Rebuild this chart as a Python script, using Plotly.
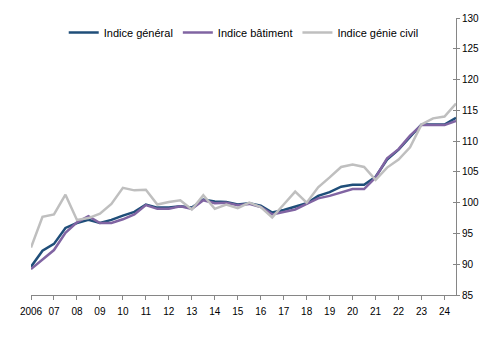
import plotly.graph_objects as go

# Half-yearly observations, 2006 H1 ... 2024 H2
periods = [2006 + 0.5 * i for i in range(38)]

indice_general = [89.6, 92.2, 93.3, 95.9, 96.7, 97.2, 96.7, 97.2, 97.9, 98.5,
                  99.7, 99.2, 99.2, 99.4, 99.2, 100.5, 100.2, 100.1, 99.7, 99.9,
                  99.5, 98.4, 98.8, 99.3, 99.9, 101.1, 101.7, 102.6, 102.9, 102.9,
                  104.2, 107.0, 108.6, 110.7, 112.7, 112.7, 112.7, 113.8]
indice_batiment = [89.2, 90.8, 92.3, 95.1, 96.8, 97.8, 96.7, 96.7, 97.3, 98.1,
                   99.6, 99.0, 99.0, 99.4, 99.0, 100.4, 99.9, 100.0, 99.6, 99.8,
                   99.3, 98.1, 98.5, 98.9, 99.8, 100.7, 101.1, 101.7, 102.2, 102.2,
                   104.1, 107.2, 108.7, 110.9, 112.6, 112.6, 112.6, 113.3]
indice_genie_civil = [92.7, 97.7, 98.1, 101.3, 97.2, 97.5, 98.2, 99.8, 102.4, 102.0,
                      102.1, 99.7, 100.1, 100.4, 98.9, 101.2, 99.0, 99.7, 99.1, 100.0,
                      99.3, 97.6, 99.7, 101.8, 100.0, 102.5, 104.1, 105.8, 106.2, 105.8,
                      103.7, 105.7, 107.0, 109.0, 112.7, 113.7, 114.0, 116.1]

tick_years = list(range(2006, 2025))
tick_labels = ["2006"] + [f"{y % 100:02d}" for y in range(2007, 2025)]
y_ticks = list(range(85, 131, 5))

series = [
    ("Indice général", indice_general, "#1F4E79"),
    ("Indice bâtiment", indice_batiment, "#8064A2"),
    ("Indice génie civil", indice_genie_civil, "#BFBFBF"),
]

fig = go.Figure()
for name, vals, col in series:
    fig.add_trace(go.Scatter(x=periods, y=vals, name=name, mode="lines",
                             line=dict(color=col, width=2.5), yaxis="y"))
# invisible trace for the inner-tick overlay axis
fig.add_trace(go.Scatter(x=[periods[0]], y=[100], yaxis="y2", mode="lines",
                         showlegend=False, hoverinfo="skip",
                         line=dict(color="rgba(0,0,0,0)")))

axis_col = "#868686"
font = dict(family="Liberation Sans, Arial, sans-serif", size=10, color="#000000")

fig.update_layout(
    width=491, height=340,
    margin=dict(l=31, r=29, t=12, b=45),
    paper_bgcolor="white", plot_bgcolor="white",
    font=font,
    showlegend=True,
    legend=dict(orientation="h", x=0.077, xanchor="left", y=0.948, yanchor="middle",
                font=dict(size=11), itemwidth=30, bgcolor="rgba(0,0,0,0)",
                traceorder="normal"),
    xaxis=dict(range=[2006, 2024.5], tickvals=tick_years, ticktext=tick_labels,
               showgrid=False, zeroline=False, showline=True, linecolor=axis_col,
               linewidth=1, ticks="outside", ticklen=4, tickcolor=axis_col,
               tickfont=dict(size=10), ticklabelstandoff=3),
    yaxis=dict(range=[85, 130], tickvals=y_ticks, side="right",
               showgrid=False, zeroline=False, showline=True, linecolor=axis_col,
               linewidth=1, ticks="outside", ticklen=3, tickcolor=axis_col,
               tickfont=dict(size=10)),
    yaxis2=dict(range=[85, 130], tickvals=y_ticks, side="right", overlaying="y",
                showgrid=False, zeroline=False, showline=False,
                ticks="inside", ticklen=3, tickcolor=axis_col,
                showticklabels=False),
)

fig.write_html("out.html")
